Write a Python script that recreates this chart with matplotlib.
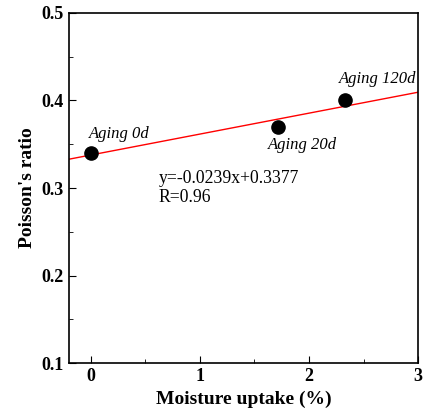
import matplotlib
matplotlib.use('Agg')
import matplotlib.pyplot as plt
import numpy as np
from matplotlib.ticker import MultipleLocator

moisture = [0.0, 1.72, 2.33]
poisson = [0.34, 0.37, 0.40]
labels = ['Aging 0d', 'Aging 20d', 'Aging 120d']
slope = 0.0239
intercept = 0.3377

plt.rcParams['font.family'] = ['Liberation Serif', 'DejaVu Serif']

fig = plt.figure(figsize=(4.31, 4.16), dpi=100)
ax = fig.add_axes([0.160, 0.127, 0.810, 0.842])

xs = np.array([-0.2, 3.0])
ax.plot(xs, slope * xs + intercept, color='red', lw=1.0, zorder=2)
ax.plot(moisture, poisson, 'o', color='black', ms=9.5, zorder=3)

# etikete tock
ax.text(-0.02, 0.357, labels[0], fontsize=12, style='italic')
ax.text(1.625, 0.358, labels[1], fontsize=12, style='italic', va='top')
ax.text(2.27, 0.42, labels[2], fontsize=12, style='italic')

ax.text(0.62, 0.300, 'y=-0.0239x+0.3377\nR=0.96', fontsize=12.7, linespacing=1.15, va='center')

ax.set_xlim(-0.2, 3)
ax.set_ylim(0.1, 0.5)
ax.xaxis.set_minor_locator(MultipleLocator(0.5))
ax.yaxis.set_minor_locator(MultipleLocator(0.05))
ax.set_xticks([0, 1, 2, 3])
ax.set_xticklabels(['0', '1', '2', '3'], fontweight='bold')
ax.set_yticks([0.1, 0.2, 0.3, 0.4, 0.5])
ax.set_yticklabels(['0.1', '0.2', '0.3', '0.4', '0.5'], fontweight='bold')
ax.tick_params(which='both', direction='in', top=False, right=False)
ax.tick_params(which='major', length=5, labelsize=13)
ax.tick_params(which='minor', length=3)

ax.set_xlabel('Moisture uptake (%)', fontsize=14, fontweight='bold')
ax.set_ylabel("Poisson's ratio", fontsize=14, fontweight='bold')
for s in ax.spines.values():
    s.set_linewidth(1.2)

fig.savefig('out.png', dpi=100)
